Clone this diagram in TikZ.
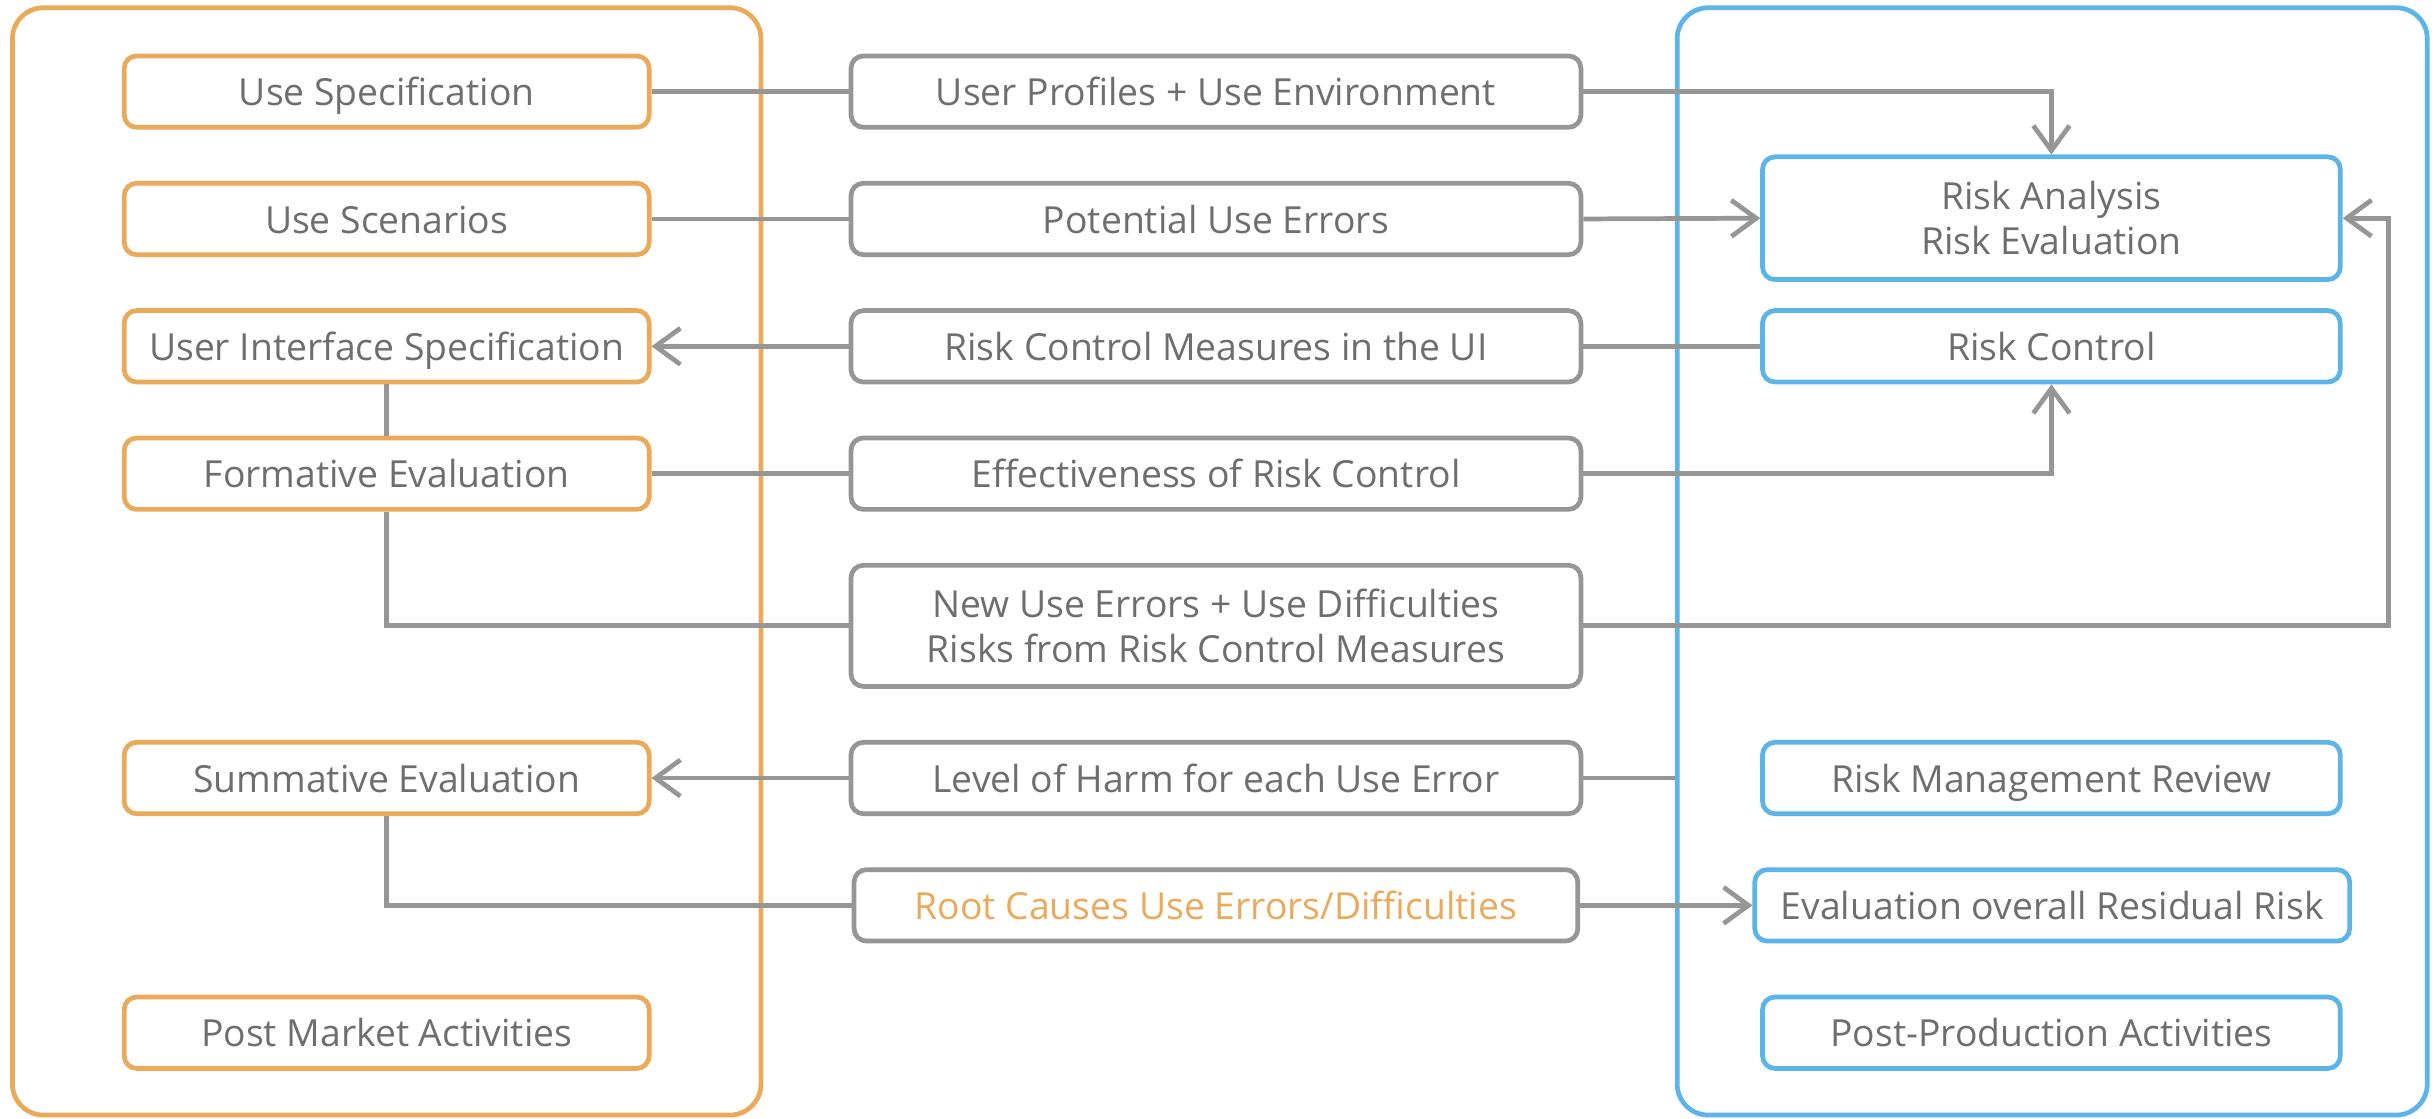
\documentclass[tikz,border=0pt]{standalone}
\usepackage{fontspec}
\setmainfont{Open Sans}
\usetikzlibrary{arrows.meta}
\definecolor{orng}{HTML}{EBA95A}
\definecolor{blu}{HTML}{5CB4E8}
\definecolor{lgray}{HTML}{969696}
\definecolor{tgray}{HTML}{6E6E6E}
\begin{document}
\begin{tikzpicture}[x=0.03cm,y=-0.03cm,
  base/.style={rectangle, rounded corners=0.24cm, line width=2.6pt, fill=white,
    text=tgray, align=center, inner sep=0pt,
    font=\fontsize{20.5}{24.5}\selectfont, text height=15.6pt, text depth=0pt},
  twoline/.style={text height=, text depth=},
  obox/.style={base, draw=orng, minimum width=10.14cm, minimum height=1.38cm},
  gbox/.style={base, draw=lgray, minimum width=14.1cm, minimum height=1.38cm},
  bbox/.style={base, draw=blu, minimum width=11.16cm, minimum height=1.38cm},
  cont/.style={rectangle, rounded corners=0.6cm, line width=2.6pt, minimum height=21.39cm, inner sep=0pt},
  conn/.style={draw=lgray, line width=2.6pt},
  arr/.style={conn, -{Straight Barb[length=0.48cm, width=0.7cm, line width=2.6pt]}}
]
\useasboundingbox (0,0) rectangle (1568,720);
\fill[white] (0,0) rectangle (1568,720);

% containers
\node[cont, draw=orng, minimum width=14.46cm] (L) at (249,361.5) {};
\node[cont, draw=blu, minimum width=14.49cm] (R) at (1321.5,361.5) {};

% left column
\node[obox] (usespec) at (249,59) {Use Specification};
\node[obox] (usescen) at (249,141) {Use Scenarios};
\node[obox] (uispec) at (249,223) {User Interface Specification};
\node[obox] (form) at (249,305) {Formative Evaluation};
\node[obox] (summ) at (249,501) {Summative Evaluation};
\node[obox] (post) at (249,665) {Post Market Activities};

% middle column
\node[gbox] (prof) at (783,59) {User Profiles + Use Environment};
\node[gbox] (pot) at (783,141) {Potential Use Errors};
\node[gbox] (rcm) at (783,223) {Risk Control Measures in the UI};
\node[gbox] (eff) at (783,305) {Effectiveness of Risk Control};
\node[gbox, twoline, minimum height=2.34cm] (newerr) at (783,403) {New Use Errors + Use Difficulties\\Risks from Risk Control Measures};
\node[gbox] (harm) at (783,501) {Level of Harm for each Use Error};
\node[gbox, minimum width=13.98cm, text=orng] (root) at (783,583) {Root Causes Use Errors/Difficulties};

% right column
\node[bbox, twoline, minimum height=2.37cm] (ra) at (1321,140.5) {Risk Analysis\\Risk Evaluation};
\node[bbox] (rc) at (1321,223) {Risk Control};
\node[bbox] (rmr) at (1321,501) {Risk Management Review};
\node[bbox, minimum width=11.49cm] (eval) at (1321.5,583) {Evaluation overall Residual Risk};
\node[bbox] (ppa) at (1321,665) {Post-Production Activities};

\coordinate (loop) at (1538,403);

% connectors
\draw[conn] (usespec.east) -- (prof.west);
\draw[arr] (prof.east) -| (ra.north);
\draw[conn] (usescen.east) -- (pot.west);
\draw[arr] (pot.east) -- (ra.west);
\draw[arr] (rcm.west) -- (uispec.east);
\draw[conn] (rc.west) -- (rcm.east);
\draw[conn] (uispec.south) -- (form.north);
\draw[conn] (form.east) -- (eff.west);
\draw[arr] (eff.east) -| (rc.south);
\draw[conn] (form.south) |- (newerr.west);
\draw[arr] (newerr.east) -- (loop) |- (ra.east);
\draw[arr] (harm.west) -- (summ.east);
\draw[conn] (harm.east) -- (harm.east -| R.west);
\draw[conn] (summ.south) |- (root.west);
\draw[arr] (root.east) -- (eval.west);
\end{tikzpicture}
\end{document}
